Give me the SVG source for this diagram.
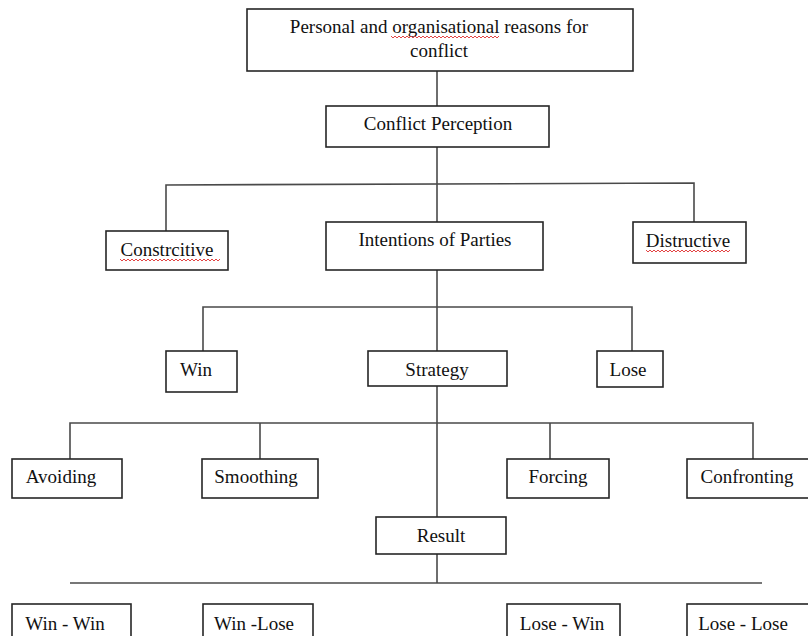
<svg xmlns="http://www.w3.org/2000/svg" width="808" height="636" viewBox="0 0 808 636">
<style>
.box{fill:#fff;stroke:#262626;stroke-width:1.6}
.lbl{font-family:"Liberation Serif","Times New Roman",serif;font-size:19px;fill:#111;text-anchor:middle}
.con{fill:none;stroke:#4a4a4a;stroke-width:1.6}
.trunk{fill:none;stroke:#6e6e6e;stroke-width:2}
.sq{fill:none;stroke:#e03030;stroke-width:0.9}
</style>
<rect width="808" height="636" fill="#fff"/>
<g id="connectors">
<path class="trunk" d="M437 71V106M437 147V222M437 270V351M437 386V517M437 547V583"/>
<path class="con" d="M166 231V185L694 183V222"/>
<path class="con" d="M203 351V307H632V351"/>
<path class="con" d="M70 459V423H753V459M260 423V459M550 423V459"/>
<path class="con" d="M70 583H762"/>
</g>
<g id="n-reasons"><rect class="box" x="247" y="9" width="386" height="62"/>
<text class="lbl" x="439" y="33">Personal and organisational reasons for</text>
<text class="lbl" x="439" y="57">conflict</text>
<path class="sq" d="M391 36l2 2l2-2l2 2l2-2l2 2l2-2l2 2l2-2l2 2l2-2l2 2l2-2l2 2l2-2l2 2l2-2l2 2l2-2l2 2l2-2l2 2l2-2l2 2l2-2l2 2l2-2l2 2l2-2l2 2l2-2l2 2l2-2l2 2l2-2l2 2l2-2l2 2l2-2l2 2l2-2l2 2l2-2l2 2l2-2l2 2l2-2l2 2l2-2l2 2l2-2l2 2l2-2l2 2l2-2"/></g>
<g id="n-perception"><rect class="box" x="326" y="106" width="223" height="41"/>
<text class="lbl" x="438" y="130">Conflict Perception</text></g>
<g id="n-constrcitive"><rect class="box" x="106" y="231" width="122" height="39"/>
<text class="lbl" x="167" y="256">Constrcitive</text>
<path class="sq" d="M120 259l2 2l2-2l2 2l2-2l2 2l2-2l2 2l2-2l2 2l2-2l2 2l2-2l2 2l2-2l2 2l2-2l2 2l2-2l2 2l2-2l2 2l2-2l2 2l2-2l2 2l2-2l2 2l2-2l2 2l2-2l2 2l2-2l2 2l2-2l2 2l2-2l2 2l2-2l2 2l2-2l2 2l2-2l2 2l2-2l2 2l2-2l2 2l2-2l2 2l2-2"/></g>
<g id="n-intentions"><rect class="box" x="326" y="222" width="217" height="48"/>
<text class="lbl" x="435" y="246">Intentions of Parties</text></g>
<g id="n-distructive"><rect class="box" x="633" y="222" width="113" height="41"/>
<text class="lbl" x="688" y="247">Distructive</text>
<path class="sq" d="M646 250l2 2l2-2l2 2l2-2l2 2l2-2l2 2l2-2l2 2l2-2l2 2l2-2l2 2l2-2l2 2l2-2l2 2l2-2l2 2l2-2l2 2l2-2l2 2l2-2l2 2l2-2l2 2l2-2l2 2l2-2l2 2l2-2l2 2l2-2l2 2l2-2l2 2l2-2l2 2l2-2l2 2l2-2"/></g>
<g id="n-win"><rect class="box" x="166" y="351" width="71" height="41"/>
<text class="lbl" x="196" y="376">Win</text></g>
<g id="n-strategy"><rect class="box" x="368" y="351" width="139" height="35"/>
<text class="lbl" x="437" y="376">Strategy</text></g>
<g id="n-lose"><rect class="box" x="597" y="351" width="66" height="36"/>
<text class="lbl" x="628" y="376">Lose</text></g>
<g id="n-avoiding"><rect class="box" x="12" y="459" width="110" height="39"/>
<text class="lbl" x="61" y="483">Avoiding</text></g>
<g id="n-smoothing"><rect class="box" x="202" y="459" width="116" height="39"/>
<text class="lbl" x="256" y="483">Smoothing</text></g>
<g id="n-forcing"><rect class="box" x="507" y="459" width="102" height="39"/>
<text class="lbl" x="558" y="483">Forcing</text></g>
<g id="n-confronting"><rect class="box" x="687" y="459" width="130" height="39"/>
<text class="lbl" x="747" y="483">Confronting</text></g>
<g id="n-result"><rect class="box" x="376" y="517" width="130" height="37"/>
<text class="lbl" x="441" y="542">Result</text></g>
<g id="n-winwin"><rect class="box" x="12" y="604" width="119" height="40"/>
<text class="lbl" x="65" y="630">Win - Win</text></g>
<g id="n-winlose"><rect class="box" x="203" y="604" width="110" height="40"/>
<text class="lbl" x="254" y="630">Win -Lose</text></g>
<g id="n-losewin"><rect class="box" x="507" y="604" width="113" height="40"/>
<text class="lbl" x="562" y="630">Lose - Win</text></g>
<g id="n-loselose"><rect class="box" x="687" y="604" width="130" height="40"/>
<text class="lbl" x="743" y="630">Lose - Lose</text></g>
</svg>
